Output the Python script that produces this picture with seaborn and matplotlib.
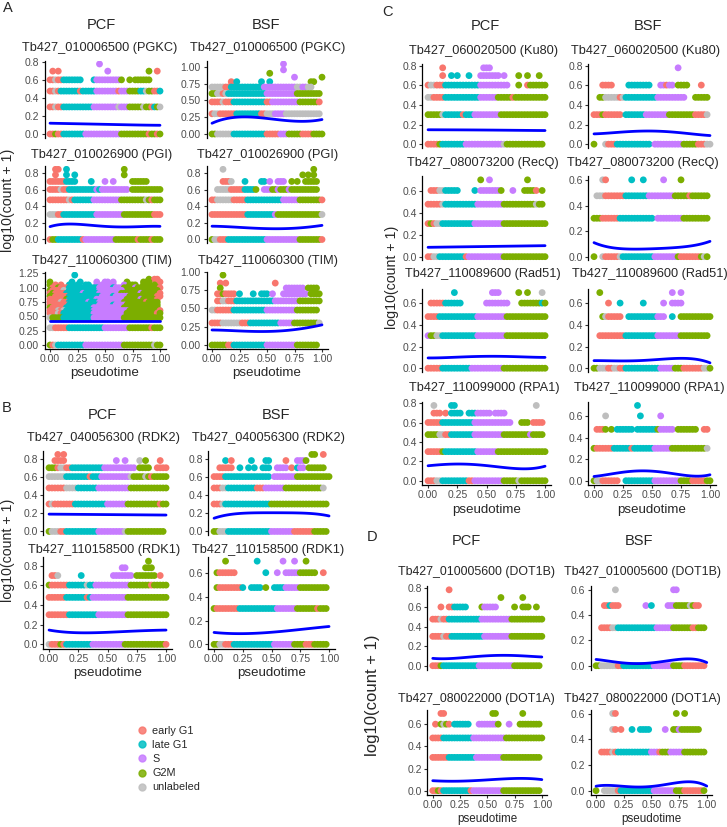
import numpy as np
import pandas as pd
import matplotlib
matplotlib.use("Agg")
import matplotlib.pyplot as plt
from matplotlib.lines import Line2D
import seaborn as sns

sns.set_theme(style="ticks")
plt.rcParams["font.family"] = ["Liberation Sans", "DejaVu Sans"]

# pseudotime bins, 0 to 1
PSEUDOTIME = [0.000, 0.025, 0.050, 0.075, 0.100, 0.125, 0.150, 0.175, 0.200, 0.225,
              0.250, 0.275, 0.300, 0.325, 0.350, 0.375, 0.400, 0.425, 0.450, 0.475,
              0.500, 0.525, 0.550, 0.575, 0.600, 0.625, 0.650, 0.675, 0.700, 0.725,
              0.750, 0.775, 0.800, 0.825, 0.850, 0.875, 0.900, 0.925, 0.950, 0.975, 1.000]

PHASES = ["early G1", "late G1", "S", "G2M", "unlabeled"]
PHASE_CODE = {"e": "early G1", "l": "late G1", "s": "S", "g": "G2M", "u": "unlabeled"}
PALETTE = {"early G1": "#F8766D", "late G1": "#00BFC4", "S": "#C77CFF",
           "G2M": "#7CAE00", "unlabeled": "#BEBEBE"}

# smoothed fit read at these pseudotimes
SMOOTH_X = [0.0, 0.2, 0.4, 0.6, 0.8, 1.0]

# counts per pseudotime bin, one character per bin (phase of the cell shown there)
PGKC_PCF = {
    5: "..................s",
    4: ".e.e.................s..............g..e.",
    3: "eeueelllllll....lsssssssssg..g.gggggg....",
    2: "eeuelllllllelllllssssssssesssgggglluggeel",
    1: "eeueelllllllllllsssssssssusssggggguggelgu",
    0: "eegeellllllllsssssssssssssggggggggggeggeg",
}
PGKC_PCF_FIT = [0.12, 0.115, 0.11, 0.105, 0.10, 0.097]

PGKC_BSF = {
    10: "..........................s",
    8: "..........................s",
    7: ".....................g",
    6: "..............................s.........g",
    5: ".......e.l........l..l..............gg...",
    4: "uuuuueellllllllllllssssssssssssuussuu....",
    3: "gguueullllllllllllllsssssssssssggggggggg.",
    2: "eeeeueeelllllllllllleessssssssssggggggge.",
    1: "euueeeeeellllllllleeuuussssuuuuuuuuuuuuu.",
    0: "gguuuuuulllllllllllleeeeesssgggggeeeegggg",
}
PGKC_BSF_FIT = [0.16, 0.245, 0.25, 0.21, 0.19, 0.215]

PGI_PCF = {
    6: "..ee..l....................g.............",
    5: "..e...l..l.................g.............",
    4: "eeeeeellll.....l....s..s......gggggg.....",
    3: "eeeeueellllllllllslssssssssss.ggggggggggg",
    2: "eeeeeeeuelllllllssssssssssgggggggggugeggg",
    1: "uuueellllllllllllssssssssssgggggggggggeee",
    0: "egglllllllllesssssssssssggggggggeggggeggg",
}
PGI_PCF_FIT = [0.155, 0.185, 0.17, 0.15, 0.155, 0.158]

PGI_BSF = {
    6: "....u................................g...",
    5: ".................................g.g.g....",
    4: "....eeeu....l.....ll.s..sss..g.g..ggggg..",
    3: "..uuuuueeeeellllg..sssggsgggsgggggggggg..",
    2: "eeuuuuuueeeeelllllllllllllssssssgggggggge",
    1: "eeeeeeeeeeeeellllllllllsggggggggggggggggu",
    0: "guueeellllllllllllllssssssssssssgggggggge",
}
PGI_BSF_FIT = [0.16, 0.15, 0.135, 0.13, 0.14, 0.17]

TIM_PCF = {
    15.6: ".........l...............................",
    13.1: "....................................g.ee.",
    11.6: "g.......l..l.....s..ss.s....g.....ggg...e",
    10.2: "g.e.e..ll.l..ll..s.ss.ss...s.ggg..ggg.g..",
    9.0: ".eegeeellllll.llllssssslsssggggsgggggggge",
    8.0: "geeeeu.llll.lllll.sssssssss..ggggggggggg.",
    7.0: "egeeeellllllslllllssssssssgggggggsgggggge",
    6.1: "ggeeeeellllllllllllsssslsssssggggggggggee",
    5.3: "eeeeeegllllllllllsssssssssssgggggsggggge",
    4.6: "eeeeueelllllllslllsssssssssggggggggegggg",
    4.0: "eeeeeeelllllllllllssssslssssgggggggggggg",
    3.5: "geeeeellllllllllsssssssssssggggggggggggg",
    3.0: "eeeueullllllllllsssssssssssssggggggggggge",
    2.6: "eeeuelllllllllllssssssssssssgggggggggggeg",
    2: "ugggglllllllllllsssssssssssgggggggggggggg",
    1: "uueeeeelllllllllllllsssssssssggggggggeggg",
    0: "geullllllllllssssssssssssssgggggggggggugg",
}
TIM_PCF_FIT = [0.425, 0.425, 0.425, 0.425, 0.425, 0.425]

TIM_BSF = {
    8: "....g",
    6: "...e.e.................e.................",
    5: "...g.......................sssssss.gggg..",
    4: "..eegeeee.l....l..lll.s...sssssssss.gggg.",
    3: "..eeuueeellllllllllllllsssssssssgggggggg.",
    2: "uueeeeeellllllllllllsssssssssssgggggggg..",
    1: "eeeeuuuuuuueeelllllllllllsssssgggggggggu.",
    0: "ggggggeellllllllllllsssssssssssgggggggg..",
}
TIM_BSF_FIT = [0.205, 0.195, 0.185, 0.19, 0.22, 0.275]

RDK2_PCF = {
    6: "...e.e",
    5: "..eeee.................s..s....u.g....e..",
    4: "gggeuueelllllllllllsssssssssss.gggg..eeee",
    3: "uuuuuullllllllelllssssssssssuggggugeggggg",
    2: "eeeeeeuuuulllllllsssssssssssggggggggggggg",
    1: "eueeeeeeelllllllllllsssssssgggggggggggegg",
    0: "guuueelllllllllllsssssssssuggggggggggggg.",
}
RDK2_PCF_FIT = [0.19, 0.188, 0.186, 0.184, 0.182, 0.18]

RDK2_BSF = {
    6: "..................................gg..e..",
    5: "....l.e......l....ll.....e...sssg........",
    4: "..eeeee..l..l.l..lll..ssss.e.lss.gggggg..",
    3: "eeeellllllllllllllll.ssssssssgggggggggggg",
    2: "eeeuulllllllllleeesssssssgggggggggggggu..",
    1: "eeeullllllllllllllllgggggggggggggggggggg.",
    0: "gguuulllllllllllllllsssssssseeeeeeeggggg.",
}
RDK2_BSF_FIT = [0.145, 0.195, 0.205, 0.205, 0.2, 0.17]

RDK1_PCF = {
    6: "..................................g",
    5: ".........................ss......ggg",
    4: ".eeu.......l..........sssssss.ggggggg.e..",
    3: "geeeeeellllllullssssssssssssgggggggeggggg",
    2: "eeeeeelllllllelssssssssssssgggggggggggggg",
    1: "eeeeeeellllllllllssssssssssgggggggggggggg",
    0: "ueeegelllllllllsssssssssssgggggggggggggge",
}
RDK1_PCF_FIT = [0.145, 0.12, 0.118, 0.128, 0.138, 0.145]

RDK1_BSF = {
    4: "....g..........l........s...s...g........",
    3: ".geeeeee..........l...s..sssssgggggg..e..",
    2: ".geeeeeeeel..llll.g..llllsssssgggggggggg.",
    1: "geeeeeeeelllllllllllllsssssssgggggggeggg.",
    0: "gguueeellllllllllllllsssssssggggeeeggggg.",
}
RDK1_BSF_FIT = [0.10, 0.09, 0.095, 0.11, 0.13, 0.15]

KU80_PCF = {
    5: ".....e.............sss",
    4: ".....e..l.l...l...sssssss.s....g..g...g..",
    3: "euueeellllllllllllssssssssss...g..egggggg",
    2: "uueeeellllllllllllssssssgggggeggggggggggg",
    1: "gggggullllllelllsssssssssgggggggggggggggg",
    0: "eeeegllllllllsssssssssssssuggggggggggggg.",
}
KU80_PCF_FIT = [0.147, 0.146, 0.145, 0.143, 0.141, 0.139]

KU80_BSF = {
    5: ".............................s",
    3: "...eeee.....llllllll...ssess.gggg....e...",
    2: "..gguuuuueulllllllllllssssssssss...ggggg.",
    1: "eeegeeeeee.lllllllssssssssgggggggggeeeeu.",
    0: "g...ueeellllllllllll.ssssssssssgggggeeeuu",
}
KU80_BSF_FIT = [0.105, 0.12, 0.133, 0.13, 0.11, 0.088]

RECQ_PCF = {
    4: "..................g..s............g",
    3: ".eeeuulllll.....l.sssssssg...s...gggge.g.",
    2: "eeeeeulllllllllllsssssssssgggggggggggugg.",
    1: "egeuulllllllllllssssssssssggggggggggggggg",
    0: "eeuulllllllllessssssssssssggggggggggggggg",
}
RECQ_PCF_FIT = [0.085, 0.088, 0.091, 0.094, 0.097, 0.1]

RECQ_BSF = {
    3: "...ue........l...l......s.....g.........",
    2: ".uuueeeeeeellllllllsssssssssgggggegggggg.",
    1: "gggeeeeeellllllllllll.sssssssssggggggggg.",
    0: "g..ueeeeeulllllllllllssssssssgeeeeeeegug.",
}
RECQ_BSF_FIT = [0.11, 0.065, 0.06, 0.065, 0.08, 0.12]

RAD51_PCF = {
    4: ".........l............sss......g..g....u.",
    3: ".eeeeellllll........ssssssss....ggggggglg",
    2: "eeeelllllllllllllssssssssssgggggggggggggg",
    1: "sgguullllllllllllssssssssssgggggggggggggg",
    0: "eeeeellllllllllsssssssssssggggggggggggggg",
}
RAD51_PCF_FIT = [0.095, 0.1, 0.108, 0.11, 0.105, 0.1]

RAD51_BSF = {
    4: "..g........................s..s..........",
    3: ".....e...l.......l......s..ssss..........",
    2: "...gueeeee..llllllllllsss..l..ggggggggggg",
    1: "..eeeeeeeeelllllllllllssssssssgggggggggg.",
    0: "gguuueeuueellllllllllllsssssgggeeeeeeeuug",
}
RAD51_BSF_FIT = [0.07, 0.068, 0.07, 0.085, 0.09, 0.05]

RPA1_PCF = {
    5: "..u.....ll...........................u...",
    4: "..eee.e.llll..lllsssss.ssss..............",
    3: "eeeeelllllllllllsssssssssssss...ggg.eeee.",
    2: "gggguueellllllllssssssssssgggggggggsgggg.",
    1: "eeeeeglllllllllllsssssssggggggggggggggggg",
    0: "eeeuullllllllleessssssssssggggguggggggggg",
}
RPA1_PCF_FIT = [0.155, 0.17, 0.17, 0.14, 0.125, 0.15]

RPA1_BSF = {
    4: "...............l",
    3: "....u...........l......s",
    2: ".eeeg.g.llllll.lllllllgsssss.ggggggg..ee.",
    1: "geeeeeellllllelllllllssssssggggggggggggu.",
    0: "guueeeeee..llllllllllsssssssssggggeeeeeggg",
}
RPA1_BSF_FIT = [0.04, 0.07, 0.095, 0.075, 0.05, 0.055]

DOT1B_PCF = {
    5: "......e",
    4: ".........................g.......g",
    3: "...e..eelllll.....gsssss......g..ggg..g..",
    2: "eeeueellllllllllllsssssssssssgggggggggggg",
    1: "eeeeueellllllllllllssssssssssgggggggggggg",
    0: "eeeglllllllllllllsssssssssssssgggggggggg.",
}
DOT1B_PCF_FIT = [0.075, 0.078, 0.09, 0.11, 0.1, 0.09]

DOT1B_BSF = {
    3: ".......u....................ss..........",
    2: "...eeleee.........s.l.....sssgggggugee...",
    1: "..eeeeuullllllllllllllssssssgggggggeeggg.",
    0: "gguuuuuueelllllllllllsssssssggggeeeeeeee.",
}
DOT1B_BSF_FIT = [0.05, 0.025, 0.02, 0.03, 0.055, 0.025]

DOT1A_PCF = {
    4: "...ee.................gg.........g.......",
    3: ".e.guge.llllll...sssssssg...s...gggggggg.",
    2: "eeeelllllllllllssssssssssssgggggggggggggg",
    1: "eeeeeellllllllllssssssssssgggggggggggggg.",
    0: "eegellllllllllesssssssssssgggggggggggggg.",
}
DOT1A_PCF_FIT = [0.09, 0.086, 0.09, 0.105, 0.11, 0.1]

DOT1A_BSF = {
    3: "......ue.....................g..g........",
    2: "......ue.e...l..llll.....s..ggsggggggg...",
    1: "..eeeeuellllllllllllsssegggsssssgggggggg.",
    0: "g..uuuuuellllllllllllssssssssgggeeeeeeeg.",
}
DOT1A_BSF_FIT = [0.035, 0.035, 0.032, 0.04, 0.07, 0.035]


def cells_frame(levels):
    rows = []
    for count, codes in levels.items():
        y = np.log10(count + 1)
        for t, c in zip(PSEUDOTIME, codes.ljust(len(PSEUDOTIME), ".")):
            if c in PHASE_CODE:
                rows.append({"pseudotime": t, "expr": y, "phase": PHASE_CODE[c]})
    return pd.DataFrame(rows)


W, H = 727, 827
fig = plt.figure(figsize=(W / 100, H / 100), dpi=100)


def ftext(x, y, s, **kw):
    kw.setdefault("ha", "center")
    kw.setdefault("va", "center")
    fig.text(x / W, 1 - y / H, s, **kw)


def panel(levels, fit, gene, box, title_xy, step, xlab_y=None, title_size=9.2):
    left, top, width, bottom = box
    ax = fig.add_axes([left / W, 1 - bottom / H, width / W, (bottom - top) / H])
    df = cells_frame(levels)
    sns.scatterplot(data=df, x="pseudotime", y="expr", hue="phase", hue_order=PHASES,
                    palette=PALETTE, s=24, linewidth=0, legend=False, ax=ax)
    sns.regplot(x=SMOOTH_X, y=fit, order=4, ci=None, scatter=False, color="blue",
                line_kws={"lw": 2.0}, ax=ax)
    ymax = df["expr"].max()
    ax.set_xlim(-0.05, 1.05)
    ax.set_ylim(-0.05 * ymax, 1.05 * ymax)
    ticks = np.arange(0, 1.05 * ymax + 1e-9, step)
    ax.set_yticks(ticks)
    fmt = "{:.2f}" if step == 0.25 else "{:.1f}"
    ax.set_yticklabels([fmt.format(t) for t in ticks])
    ax.set_xlabel("")
    ax.set_ylabel("")
    for s in ["top", "right"]:
        ax.spines[s].set_visible(False)
    ax.spines["left"].set_color("black")
    ax.spines["left"].set_linewidth(0.9)
    ax.tick_params(axis="y", length=2.5, width=0.8, color="#333333",
                   labelsize=7.5, labelcolor="#4D4D4D", pad=1.5)
    if xlab_y is None:
        ax.spines["bottom"].set_visible(False)
        ax.set_xticks([])
    else:
        ax.spines["bottom"].set_color("black")
        ax.spines["bottom"].set_linewidth(0.9)
        ax.set_xticks([0, 0.25, 0.5, 0.75, 1.0])
        ax.set_xticklabels(["0.00", "0.25", "0.50", "0.75", "1.00"])
        ax.tick_params(axis="x", length=2.5, width=0.8, color="#333333",
                       labelsize=7.5, labelcolor="#4D4D4D", pad=1.5)
    ax.set_facecolor("white")
    ftext(title_xy[0], title_xy[1], gene, fontsize=title_size)
    return ax


# panel A
panel(PGKC_PCF, PGKC_PCF_FIT, "Tb427_010006500 (PGKC)", (44.5, 60.5, 121, 137.5), (100, 48), 0.2)
panel(PGKC_BSF, PGKC_BSF_FIT, "Tb427_010006500 (PGKC)", (206.5, 60.5, 121, 137.5), (268, 48), 0.25)
panel(PGI_PCF, PGI_PCF_FIT, "Tb427_010026900 (PGI)", (44.5, 165.8, 121, 243), (101.5, 155), 0.2)
panel(PGI_BSF, PGI_BSF_FIT, "Tb427_010026900 (PGI)", (206.5, 165.8, 121, 243), (268, 155), 0.2)
panel(TIM_PCF, TIM_PCF_FIT, "Tb427_110060300 (TIM)", (44.5, 271.6, 121, 348.5), (102, 261), 0.25, 373)
panel(TIM_BSF, TIM_BSF_FIT, "Tb427_110060300 (TIM)", (206.5, 271.6, 121, 348.5), (268, 261), 0.25, 373)

# panel B
panel(RDK2_PCF, RDK2_PCF_FIT, "Tb427_040056300 (RDK2)", (43.2, 450.6, 128.7, 535.3), (103.5, 438), 0.2)
panel(RDK2_BSF, RDK2_BSF_FIT, "Tb427_040056300 (RDK2)", (208.3, 450.6, 126.5, 535.3), (269, 438), 0.2)
panel(RDK1_PCF, RDK1_PCF_FIT, "Tb427_110158500 (RDK1)", (43.2, 557, 128.7, 648.5), (104, 550), 0.2, 673)
panel(RDK1_BSF, RDK1_BSF_FIT, "Tb427_110158500 (RDK1)", (208.3, 557, 126.5, 648.5), (268, 550), 0.2, 673)

# panel C
panel(KU80_PCF, KU80_PCF_FIT, "Tb427_060020500 (Ku80)", (422.2, 64, 128.7, 148), (483.5, 51), 0.2)
panel(KU80_BSF, KU80_BSF_FIT, "Tb427_060020500 (Ku80)", (588.2, 64, 127.6, 148), (646, 51), 0.2)
panel(RECQ_PCF, RECQ_PCF_FIT, "Tb427_080073200 (RecQ)", (422.2, 176, 128.7, 260.5), (482.5, 163), 0.2)
panel(RECQ_BSF, RECQ_BSF_FIT, "Tb427_080073200 (RecQ)", (588.2, 176, 127.6, 260.5), (642.5, 163), 0.2)
panel(RAD51_PCF, RAD51_PCF_FIT, "Tb427_110089600 (Rad51)", (422.2, 288.8, 128.7, 372), (483, 274), 0.2)
panel(RAD51_BSF, RAD51_BSF_FIT, "Tb427_110089600 (Rad51)", (588.2, 288.8, 127.6, 372), (650, 274), 0.2)
panel(RPA1_PCF, RPA1_PCF_FIT, "Tb427_110099000 (RPA1)", (422.2, 401.7, 128.7, 484.5), (484, 388), 0.2, 510)
panel(RPA1_BSF, RPA1_BSF_FIT, "Tb427_110099000 (RPA1)", (588.2, 401.7, 127.6, 484.5), (649, 388), 0.2, 510)

# panel D
panel(DOT1B_PCF, DOT1B_PCF_FIT, "Tb427_010005600 (DOT1B)", (427.3, 586, 120, 669.5), (476, 572), 0.2, title_size=8.9)
panel(DOT1B_BSF, DOT1B_BSF_FIT, "Tb427_010005600 (DOT1B)", (590.5, 586, 121.8, 669.5), (642, 572), 0.2, title_size=8.9)
panel(DOT1A_PCF, DOT1A_PCF_FIT, "Tb427_080022000 (DOT1A)", (427.3, 709.6, 120, 794.5), (476, 699), 0.2, 819, title_size=8.9)
panel(DOT1A_BSF, DOT1A_BSF_FIT, "Tb427_080022000 (DOT1A)", (590.5, 709.6, 121.8, 794.5), (642, 699), 0.2, 819, title_size=8.9)

# x axis titles
for x, y, size in [(105, 373, 9.6), (267, 373, 9.6), (107.5, 673, 9.6), (271.5, 673, 9.6),
                   (486.5, 510, 9.6), (652, 510, 9.6), (487.3, 819, 8.4), (651.4, 819, 8.4)]:
    ftext(x, y, "pseudotime", fontsize=size)

# y axis titles
for x, y, size in [(8, 200, 10.2), (8, 550, 10.2), (392, 277, 10.2), (373, 695, 12)]:
    ftext(x, y, "log10(count + 1)", fontsize=size, rotation=90)

# column headers
for x, y, s in [(101, 25, "PCF"), (266, 25, "BSF"), (102, 415, "PCF"), (276, 415, "BSF"),
                (485, 26, "PCF"), (648, 26, "BSF"), (466, 541, "PCF"), (639, 541, "BSF")]:
    ftext(x, y, s, fontsize=10.5)

# panel letters
for x, y, s in [(7.5, 8, "A"), (7, 408, "B"), (387, 11.5, "C"), (372, 537, "D")]:
    ftext(x, y, s, fontsize=10.5)

handles = [Line2D([], [], marker="o", ls="", color=PALETTE[p], markersize=5, alpha=0.85)
           for p in PHASES]
fig.legend(handles, PHASES, loc="upper left", bbox_to_anchor=(138 / W, 1 - 726 / H),
           frameon=False, fontsize=7.8, handlelength=0.8, handletextpad=0.5,
           labelspacing=0.38, borderaxespad=0, borderpad=0)

fig.savefig("out.png", dpi=100)
